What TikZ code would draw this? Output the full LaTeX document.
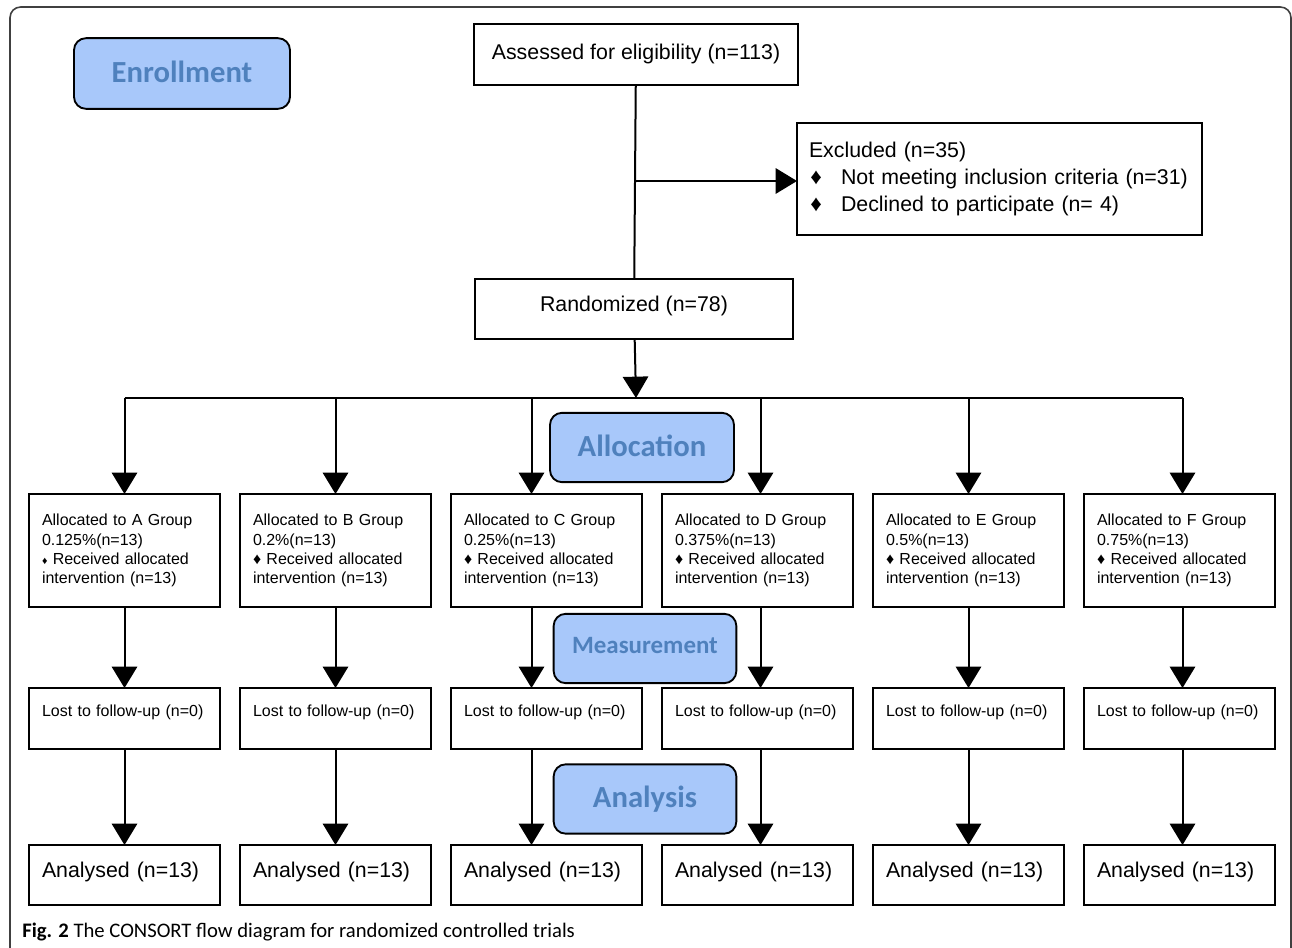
\documentclass[tikz,border=0pt]{standalone}
\usepackage{fontspec}
\setmainfont{Liberation Sans}
\newfontfamily\hdrfont{Carlito}
\usepackage{xcolor}
\usepackage{tikz}
\usetikzlibrary{arrows.meta, positioning}
\definecolor{hdrfill}{RGB}{168,200,250}
\definecolor{hdrtext}{RGB}{79,129,189}
\tikzstyle{stage} = [rectangle, draw, line width=1.4pt, rounded corners=9pt, fill=hdrfill, text=hdrtext, font=\hdrfont\bfseries\fontsize{23}{25}\selectfont, minimum width=137pt, minimum height=52pt]
\tikzstyle{box} = [rectangle, draw, line width=1.3pt, inner sep=0pt, outer sep=0pt, font=\fontsize{16}{20.25}\selectfont]
\tikzstyle{group} = [box, text width=123.75pt, inner xsep=9.75pt, align=left, minimum height=84.75pt, font=\fontsize{12}{14.4}\selectfont]
\tikzstyle{lost} = [box, text width=123.75pt, inner xsep=9.75pt, align=left, text height=21pt, text depth=24.75pt, font=\fontsize{12}{14.4}\selectfont]
\tikzstyle{final} = [box, text width=123.75pt, inner xsep=9.75pt, align=left, text height=24pt, text depth=21pt]
\tikzstyle{arrow} = [-{Triangle[length=16pt, width=19pt]}, line width=1.5pt]
\tikzstyle{line} = [line width=1.5pt]
\newcommand{\dia}{{\fontsize{12}{12}\selectfont ♦}}
\newcommand{\bigdia}{{\fontsize{17}{17}\selectfont ♦}}

\begin{document}
\begin{tikzpicture}[x=0.75pt, y=-0.75pt, node distance=15pt]
    \useasboundingbox (0,0) rectangle (1292,948);
    \draw[line width=1.2pt, black!75, rounded corners=8pt] (10,7) rectangle (1291,980);

    % top part
    \node[stage, minimum width=162pt, minimum height=53pt] (enroll) at (182,73.5) {\raisebox{2pt}{Enrollment}};
    \node[box, minimum width=243pt, text height=27pt, text depth=18.75pt] (assess) at (636,54.5) {Assessed for eligibility (n=113)};
    \node[box, text width=285.75pt, inner xsep=9pt, align=left, minimum height=84pt] (excl) at (999.5,179)
        {Excluded (n=35)\\
         \makebox[24pt][l]{\hspace{1pt}\bigdia}Not meeting inclusion criteria (n=31)\\
         \makebox[24pt][l]{\hspace{1pt}\bigdia}Declined to participate (n= 4)};
    \node[box, minimum width=238.5pt, text height=24.75pt, text depth=20.25pt] (rand) at (634,309) {Randomized (n=78)};
    \coordinate (branch) at (636,181);
    \coordinate (split) at (636,398);

    % groups
    \node[group] (grpA) at (124.5,550.5) {Allocated to A Group\\0.125\%(n=13)\\{\fontsize{8}{8}\selectfont ♦} Received allocated\\intervention (n=13)};
    \node[group, right=15pt of grpA] (grpB) {Allocated to B Group\\0.2\%(n=13)\\\dia\ Received allocated\\intervention (n=13)};
    \node[group, right=15pt of grpB] (grpC) {Allocated to C Group\\0.25\%(n=13)\\\dia\ Received allocated\\intervention (n=13)};
    \node[group, right=15pt of grpC] (grpD) {Allocated to D Group\\0.375\%(n=13)\\\dia\ Received allocated\\intervention (n=13)};
    \node[group, right=15pt of grpD] (grpE) {Allocated to E Group\\0.5\%(n=13)\\\dia\ Received allocated\\intervention (n=13)};
    \node[group, right=15pt of grpE] (grpF) {Allocated to F Group\\0.75\%(n=13)\\\dia\ Received allocated\\intervention (n=13)};

    \node[lost, below=60.75pt of grpA] (lostA) {Lost to follow-up (n=0)};
    \node[lost, below=60.75pt of grpB] (lostB) {Lost to follow-up (n=0)};
    \node[lost, below=60.75pt of grpC] (lostC) {Lost to follow-up (n=0)};
    \node[lost, below=60.75pt of grpD] (lostD) {Lost to follow-up (n=0)};
    \node[lost, below=60.75pt of grpE] (lostE) {Lost to follow-up (n=0)};
    \node[lost, below=60.75pt of grpF] (lostF) {Lost to follow-up (n=0)};

    \node[final, below=72pt of lostA] (anaA) {Analysed (n=13)};
    \node[final, below=72pt of lostB] (anaB) {Analysed (n=13)};
    \node[final, below=72pt of lostC] (anaC) {Analysed (n=13)};
    \node[final, below=72pt of lostD] (anaD) {Analysed (n=13)};
    \node[final, below=72pt of lostE] (anaE) {Analysed (n=13)};
    \node[final, below=72pt of lostF] (anaF) {Analysed (n=13)};

    \node[stage, minimum width=138pt] (alloc) at (642,447.5) {\raisebox{2pt}{Allocation}};
    \node[stage, font=\hdrfont\bfseries\fontsize{18.7}{20}\selectfont] (meas) at (645,648.5) {\raisebox{4pt}{Measurement}};
    \node[stage] (analysis) at (645,799) {\raisebox{1pt}{Analysis}};

    % columns that sit off centre
    \coordinate (fC) at ([xshift=-11.25pt]grpC.north);
    \coordinate (fD) at ([xshift=2.25pt]grpD.north);
    \coordinate (fF) at ([xshift=2.25pt]grpF.north);

    % connectors
    \draw[line] (assess) -- (rand);
    \draw[arrow] (branch) -- (branch -| excl.west);
    \draw[arrow] (rand) -- (split);
    \draw[line] (grpA.north |- split) -- (fF |- split);
    \draw[arrow] (grpA.north |- split) -- (grpA);
    \draw[arrow] (grpB.north |- split) -- (grpB);
    \draw[arrow] (fC |- split) -- (fC);
    \draw[arrow] (fD |- split) -- (fD);
    \draw[arrow] (grpE.north |- split) -- (grpE);
    \draw[arrow] (fF |- split) -- (fF);

    \draw[arrow] (grpA) -- (lostA);
    \draw[arrow] (grpB) -- (lostB);
    \draw[arrow] (fC |- grpC.south) -- (fC |- lostC.north);
    \draw[arrow] (fD |- grpD.south) -- (fD |- lostD.north);
    \draw[arrow] (grpE) -- (lostE);
    \draw[arrow] (fF |- grpF.south) -- (fF |- lostF.north);

    \draw[arrow] (lostA) -- (anaA);
    \draw[arrow] (lostB) -- (anaB);
    \draw[arrow] (fC |- lostC.south) -- (fC |- anaC.north);
    \draw[arrow] (fD |- lostD.south) -- (fD |- anaD.north);
    \draw[arrow] (lostE) -- (anaE);
    \draw[arrow] (fF |- lostF.south) -- (fF |- anaF.north);

    \node[anchor=base west, inner sep=0pt, font=\hdrfont\fontsize{15.5}{18}\selectfont] (caption) at (22,937) {\textbf{Fig. 2} The CONSORT flow diagram for randomized controlled trials};
\end{tikzpicture}
\end{document}
